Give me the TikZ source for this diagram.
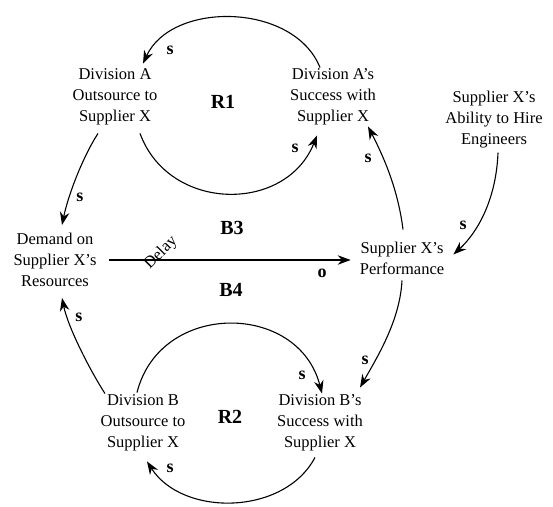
\documentclass[tikz,border=0pt]{standalone}
\usepackage{fontspec}
\setmainfont{Liberation Serif}
\usetikzlibrary{arrows.meta,calc}
\begin{document}
\begin{tikzpicture}[x=1pt,y=-1pt,
  var/.style={align=center,inner sep=0pt,font=\fontsize{16.5}{21}\selectfont},
  pol/.style={inner sep=0pt,font=\fontsize{18}{18}\selectfont\bfseries},
  loopname/.style={inner sep=0pt,font=\fontsize{20}{20}\selectfont\bfseries},
  link/.style={line width=1.1pt,-{Stealth[length=13pt,width=9.5pt]}}]
\useasboundingbox (0,0) rectangle (553,506);
% variables
\node[var] (outA)   at (115,97)  {Division A\\Outsource to\\Supplier X};
\node[var] (succA)  at (333,97)  {Division A’s\\Success with\\Supplier X};
\node[var] (abil)   at (494,120) {Supplier X’s\\Ability to Hire\\Engineers};
\node[var] (demand) at (55,260)  {Demand on\\Supplier X’s\\Resources};
\node[var] (perf)   at (402,258) {Supplier X’s\\Performance};
\node[var] (outB)   at (143,423) {Division B\\Outsource to\\Supplier X};
\node[var] (succB)  at (320,423) {Division B’s\\Success with\\Supplier X};
% loop names
\node[loopname] (r1) at (223,102) {R1};
\node[loopname] (b3) at (232,228) {B3};
\node[loopname] (b4) at (231,290) {B4};
\node[loopname] (r2) at (230,417) {R2};
% links
\draw[link] ([xshift=-13pt,yshift=1pt]succA.north) .. controls +(-26,-65) and +(29,-63) .. ([xshift=28pt,yshift=5pt]outA.north);
\draw[link] ([xshift=25pt,yshift=-8pt]outA.south) .. controls +(29,79) and +(-31,78) .. ([xshift=-16pt,yshift=-10pt]succA.south);
\draw[link] ([xshift=-17pt,yshift=-8pt]outA.south) .. controls +(-16,25) and +(6,-29) .. ([xshift=7pt,yshift=8pt]demand.north);
\draw[link] ([xshift=-38pt,yshift=1pt]outB.north) .. controls +(-16,-25) and +(6,29) .. ([xshift=7pt,yshift=-11pt]demand.south);
\draw[link] ([xshift=-6pt,yshift=2pt]outB.north) .. controls +(23,-92) and +(-23.5,-92) .. ([xshift=2pt,yshift=1pt]succB.north);
\draw[link] ([xshift=-5pt,yshift=-6pt]succB.south) .. controls +(-30.8,58.3) and +(35.6,55.5) .. ([xshift=4pt,yshift=-10pt]outB.south);
\draw[link] ([xshift=1pt,yshift=12pt]perf.north) .. controls +(-5,-40) and +(16,31) .. ([xshift=35pt,yshift=-1pt]succA.south);
\draw[link] ([xshift=4pt,yshift=-4pt]abil.south) .. controls +(-2,50) and +(22,-20) .. ([xshift=9pt,yshift=-13pt]perf.north east);
\draw[link] ([xshift=0pt,yshift=-6pt]perf.south) .. controls +(-2,40) and +(17,-30) .. ([xshift=40pt,yshift=7pt]succB.north);
\draw[link] ($(demand.east)+(12,0)$) -- ($(demand.east -| perf.west)+(-9,0)$);
% delay and polarities
\node[inner sep=0pt,rotate=45,font=\fontsize{16.5}{16.5}\selectfont] (delay) at (161,253) {Delay};
\node[pol] (p1)  at (170,50)  {s};
\node[pol] (p2)  at (80,197)  {s};
\node[pol] (p3)  at (295,148) {s};
\node[pol] (p4)  at (368,158) {s};
\node[pol] (p5)  at (463,225) {s};
\node[pol] (p6)  at (322,273) {o};
\node[pol] (p7)  at (79,317)  {s};
\node[pol] (p8)  at (302,375) {s};
\node[pol] (p9)  at (365,360) {s};
\node[pol] (p10) at (170,468) {s};
\end{tikzpicture}
\end{document}
